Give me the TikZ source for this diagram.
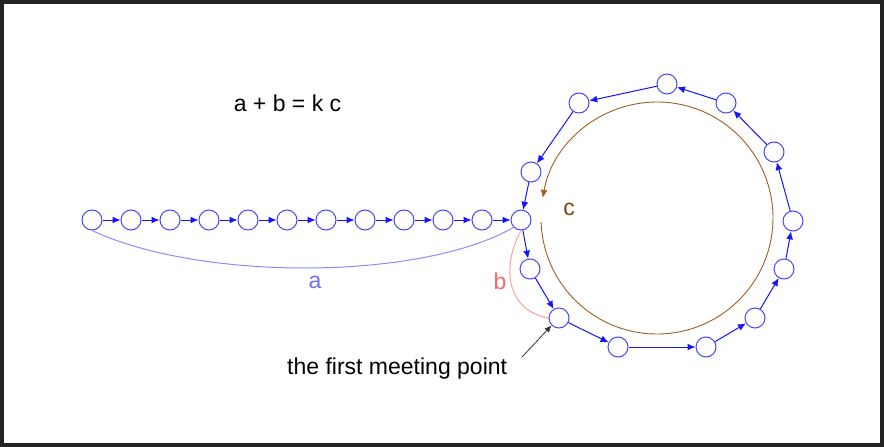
\documentclass[tikz,border=0pt]{standalone}
\usepackage{fontspec}
\setmainfont{Liberation Sans}
\usetikzlibrary{arrows.meta}
\definecolor{frame}{RGB}{35,35,35}
\definecolor{nodeblue}{RGB}{70,70,255}
\definecolor{arrblue}{RGB}{20,20,255}
\definecolor{curvea}{RGB}{140,140,255}
\definecolor{texta}{RGB}{110,110,255}
\definecolor{curveb}{RGB}{255,160,160}
\definecolor{textb}{RGB}{255,100,100}
\definecolor{brownc}{RGB}{160,95,35}
\definecolor{browntext}{RGB}{130,65,10}
\begin{document}
\begin{tikzpicture}[x=1pt,y=-1pt,
  vtx/.style={circle,draw=nodeblue,line width=1pt,minimum size=20pt,inner sep=0pt,fill=white},
  link/.style={draw=arrblue,line width=1pt,-{Latex[length=8pt,width=7pt]}},
  lbl/.style={font=\fontsize{23}{27}\selectfont,inner sep=0pt}]
\useasboundingbox (0,0) rectangle (884,447);
\fill[frame] (0,0) rectangle (884,447);
\fill[white] (4,4) rectangle (880,443);
% chain
\foreach \i in {0,...,10} {
  \node[vtx] (c\i) at ({92+39*\i},220) {};
}
\node[vtx] (J) at (521,220) {};
\node[vtx] (n1) at (530,269) {};
\node[vtx] (n2) at (559,318) {};
\node[vtx] (n3) at (618,347) {};
\node[vtx] (n4) at (706,347) {};
\node[vtx] (n5) at (755,318) {};
\node[vtx] (n6) at (784,269) {};
\node[vtx] (n7) at (793,221) {};
\node[vtx] (n8) at (774,152) {};
\node[vtx] (n9) at (726,103) {};
\node[vtx] (n10) at (667,84) {};
\node[vtx] (n11) at (579,103) {};
\node[vtx] (n12) at (531,172) {};
\foreach \i [evaluate=\i as \j using int(\i+1)] in {0,...,9} {
  \draw[link] (c\i) -- (c\j);
}
\draw[link] (c10) -- (J);
\draw[link] (J) -- (n1);
\foreach \i [evaluate=\i as \j using int(\i+1)] in {1,...,11} {
  \draw[link] (n\i) -- (n\j);
}
\draw[link] (n12) -- (J);
% curve a
\draw[curvea,line width=1pt] (c0.south) .. controls (200,281) and (420,281) .. (J.south west);
\node[lbl,text=texta] (la) at (315,282) {a};
% curve b
\draw[curveb,line width=1pt] (J.south) .. controls (502,265) and (505,310) .. (n2.west);
\node[lbl,text=textb] (lb) at (500,281) {b};
% cycle c
\coordinate (cc) at (657,218);
\draw[brownc,line width=0.9pt,-{Latex[length=8pt,width=7pt]}] ([shift={(178:116)}]cc) arc[start angle=178,end angle=-170,radius=116];
\node[lbl,text=browntext] (lc) at (569,209) {c};
% equation
\node[lbl] (eq) at (287.5,103) {a + b = k c};
% meeting point
\node[lbl,anchor=west] (mp) at (287,369) {the first meeting point};
\coordinate (mpa) at (522,357);
\draw[black!80,line width=0.8pt,-{Latex[length=7pt,width=6pt]}] (mpa) -- (n2.south west);
\end{tikzpicture}
\end{document}
